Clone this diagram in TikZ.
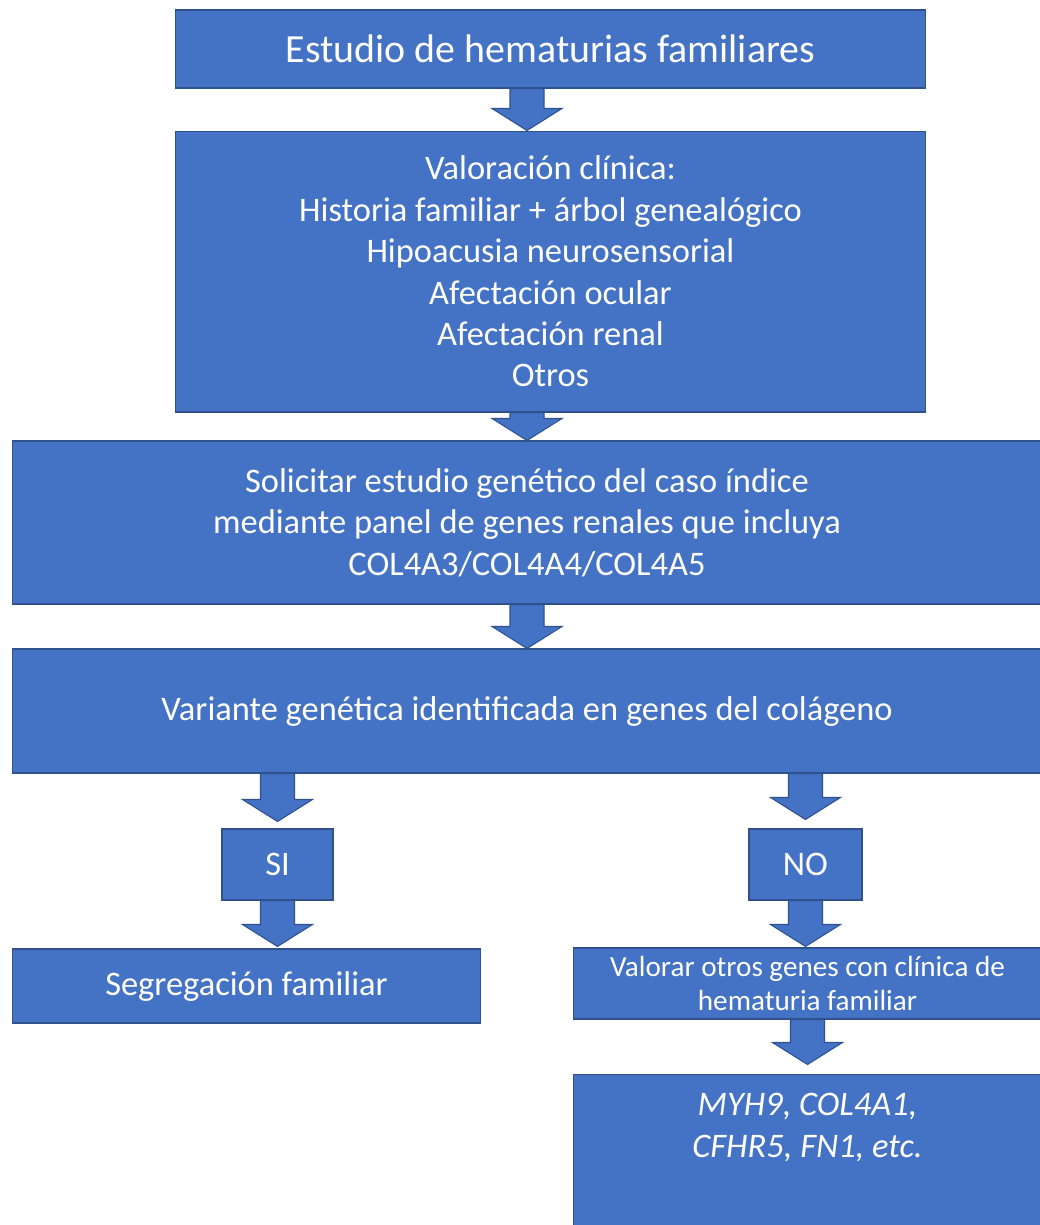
\documentclass[tikz,border=0pt]{standalone}
\usepackage{fontspec}
\setmainfont{Carlito}
\usepackage{xcolor}
\definecolor{hemablue}{RGB}{68,114,196}
\definecolor{hemaline}{RGB}{47,82,143}
\usepackage{tikz}
\usetikzlibrary{calc}

\newcommand{\titlefont}{\fontsize{22.7}{27}\selectfont}
\newcommand{\bodyfont}{\fontsize{19.6}{23.6}\selectfont}
\newcommand{\smallbody}{\fontsize{16.6}{19.8}\selectfont}

\tikzset{
  box/.style={draw=hemaline, fill=hemablue, line width=0.6pt, text=white,
    inner sep=0pt, align=center, font=\bodyfont},
  arrowshape/.style={draw=hemaline, fill=hemablue, line width=0.6pt}
}

% block arrow: [gap above tip]{from}{to}
\newcommand{\blockarrow}[3][0]{%
  \path[arrowshape] ($(#2)+(-17,0)$) -- ($(#3)+(-17,-22-#1)$) -- ($(#3)+(-35,-22-#1)$)
    -- ($(#3)+(0,-#1)$) -- ($(#3)+(35,-22-#1)$) -- ($(#3)+(17,-22-#1)$)
    -- ($(#2)+(17,0)$) -- cycle;}

\begin{document}
\begin{tikzpicture}[x=0.02cm, y=-0.02cm]
  \path[use as bounding box, fill=white] (0,0) rectangle (1040,1225);

  % --- Main column ---
  \node[box, font=\titlefont, minimum width=15.02cm, minimum height=1.56cm] (estudio) at (550.5,49) {Estudio de hematurias familiares};
  \node[box, minimum width=15.02cm, minimum height=5.62cm] (valoracion) at (550.5,271.5)
    {Valoración clínica:\\ Historia familiar + árbol genealógico\\ Hipoacusia neurosensorial\\ Afectación ocular\\ Afectación renal\\ Otros};
  \node[box, minimum width=20.6cm, minimum height=3.26cm] (solicitar) at (527,522.5)
    {Solicitar estudio genético del caso índice\\ mediante panel de genes renales que incluya\\ COL4A3/COL4A4/COL4A5};
  \node[box, minimum width=20.6cm, minimum height=2.48cm] (variante) at (527,711) {Variante genética identificada en genes del colágeno};

  % --- Left: SI ---
  \node[box, minimum width=2.22cm, minimum height=1.42cm] (si) at (277.5,864.5) {SI};
  \node[box, minimum width=9.38cm, minimum height=1.48cm] (segregacion) at (246.5,986) {Segregación familiar};

  % --- Right: NO ---
  \node[box, minimum width=2.26cm, minimum height=1.42cm] (no) at (805.5,864.5) {NO};
  \node[box, font=\smallbody, minimum width=9.38cm, minimum height=1.42cm] (otros) at (807.5,983.5)
    {Valorar otros genes con clínica de\\ hematuria familiar};
  \node[box, font=\bodyfont\itshape, minimum width=9.38cm, minimum height=3.16cm, text depth=1.25cm] (genes) at (807.5,1153)
    {\begin{tabular}[b]{@{}c@{}}MYH9, COL4A1,\\ CFHR5, FN1, etc.\end{tabular}};

  % Arrows
  \blockarrow{estudio.south -| solicitar.north}{valoracion.north -| solicitar.north}
  \blockarrow{valoracion.south -| solicitar.north}{solicitar.north}
  \blockarrow{solicitar.south}{variante.north}
  \blockarrow[7]{variante.south -| si.north}{si.north}
  \blockarrow[2]{si.south}{segregacion.north -| si.south}
  \blockarrow[9]{variante.south -| no.north}{no.north}
  \blockarrow[1]{no.south}{otros.north -| no.south}
  \blockarrow[9]{otros.south}{genes.north}
\end{tikzpicture}
\end{document}
